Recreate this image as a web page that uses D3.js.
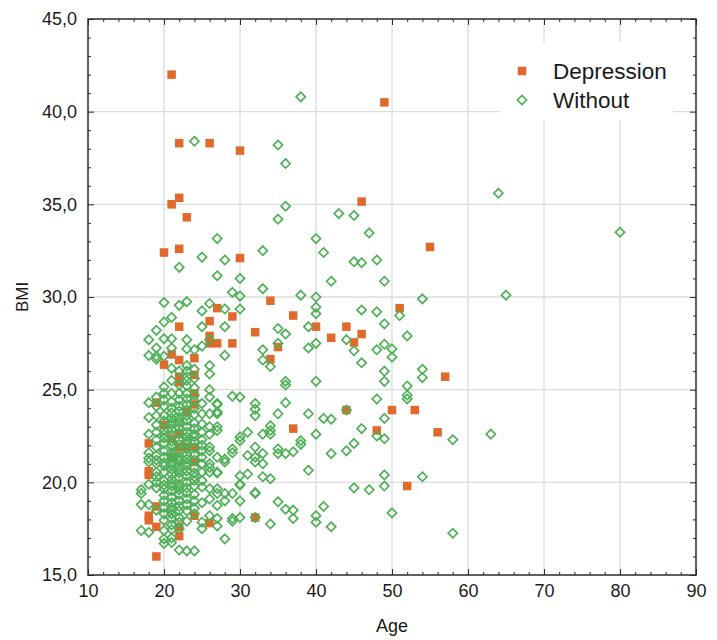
<!DOCTYPE html>
<html>
<head>
<meta charset="utf-8">
<script src="https://cdn.jsdelivr.net/npm/d3@7"></script>
<style>
  body { margin: 0; background: #fff; }
  text { font-family: "Liberation Sans", Arial, Helvetica, sans-serif; fill: #1a1a1a; }
</style>
</head>
<body>
<svg id="chart" width="717" height="640"></svg>
<script>
// Age / BMI scatter, two groups

const xTicks = [10, 20, 30, 40, 50, 60, 70, 80, 90];
const yTicks = [15, 20, 25, 30, 35, 40, 45];
const seriesNames = ['Depression', 'Without'];

// [age, BMI]
const depression = [
    [21, 42.0], [49, 40.5], [22, 38.3], [26, 38.3], [30, 37.9], [22, 35.35], [21, 35.0],
    [23, 34.3], [46, 35.15], [20, 32.4], [22, 32.6], [30, 32.1], [55, 32.7], [34, 29.8],
    [27, 29.4], [29, 28.95], [37, 29.0], [51, 29.4], [26, 28.7], [22, 28.4], [40, 28.4],
    [44, 28.4], [46, 28.0], [32, 28.1], [42, 27.8], [26, 27.9], [26, 27.5], [27, 27.5],
    [29, 27.5], [35, 27.3], [45, 27.55], [21, 26.9], [22, 26.6], [24, 26.7], [34, 26.65],
    [20, 26.35], [22, 25.7], [24, 25.8], [22, 25.4], [57, 25.7], [44, 23.9], [50, 23.9],
    [53, 23.9], [48, 22.8], [56, 22.7], [37, 22.9], [52, 19.8], [32, 18.1], [26, 17.8],
    [18, 22.1], [18, 20.6], [18, 20.4], [18, 18.2], [18, 17.95], [19, 18.7], [19, 17.6],
    [19, 16.0], [20, 23.1], [21, 22.35], [21, 21.35], [22, 22.6], [22, 17.6], [22, 17.1],
    [24, 21.9], [24, 21.1], [24, 18.2], [24, 24.8], [24, 24.2], [19, 24.3], [23, 23.8],
    [22, 21.9], [23, 21.9]
];

const without = [
    [17, 19.6], [17, 19.4], [17, 18.8], [17, 17.4],
    [18, 27.7], [18, 26.85], [18, 24.3], [18, 22.6], [18, 21.6], [18, 21.3], [18, 21.1],
    [18, 18.8], [18, 17.3], [18, 19.9], [18, 23.5],
    [19, 28.2], [19, 27.25], [19, 26.8], [19, 26.65], [19, 24.6], [19, 24.1], [19, 23.1],
    [19, 22.3], [19, 21.9], [19, 21.45], [19, 21.0], [19, 20.55], [19, 20.0], [19, 19.7],
    [19, 18.5], [19, 22.7], [19, 23.6], [19, 20.3], [19, 21.2],
    [20, 29.7], [20, 28.65], [20, 27.75], [20, 26.8], [20, 25.15], [20, 24.8], [20, 24.1],
    [20, 23.6], [20, 23.3], [20, 22.8], [20, 22.4], [20, 22.1], [20, 21.7], [20, 21.35],
    [20, 20.9], [20, 20.55], [20, 20.1], [20, 19.65], [20, 19.3], [20, 19.0], [20, 18.3],
    [20, 17.95], [20, 17.4], [20, 16.95], [20, 16.7], [20, 24.45], [20, 21.05], [20, 19.85],
    [20, 22.6], [20, 18.65],
    [21, 28.9], [21, 27.75], [21, 27.25], [21, 26.15], [21, 25.5], [21, 24.8], [21, 24.35],
    [21, 24.0], [21, 23.75], [21, 23.45], [21, 23.1], [21, 22.85], [21, 22.55], [21, 22.2],
    [21, 21.95], [21, 21.6], [21, 21.3], [21, 21.05], [21, 20.7], [21, 20.45], [21, 20.15],
    [21, 19.8], [21, 19.55], [21, 19.2], [21, 18.9], [21, 18.65], [21, 18.3], [21, 18.05],
    [21, 17.7], [21, 17.45], [21, 17.0], [21, 16.75], [21, 22.0], [21, 21.45], [21, 20.9],
    [21, 19.95], [21, 23.25], [21, 18.5],
    [22, 31.6], [22, 29.55], [22, 25.25], [22, 24.8], [22, 24.45], [22, 24.1], [22, 23.85],
    [22, 23.5], [22, 23.2], [22, 22.95], [22, 22.65], [22, 22.3], [22, 22.05], [22, 21.75],
    [22, 21.4], [22, 21.15], [22, 20.8], [22, 20.5], [22, 20.25], [22, 19.9], [22, 19.6],
    [22, 19.35], [22, 19.0], [22, 18.7], [22, 18.45], [22, 18.1], [22, 17.85], [22, 17.5],
    [22, 16.35], [22, 21.25], [22, 20.65], [22, 23.35], [22, 19.75], [22, 26.0],
    [23, 29.75], [23, 27.7], [23, 27.2], [23, 26.3], [23, 26.0], [23, 25.7], [23, 25.5],
    [23, 25.2], [23, 24.8], [23, 24.5], [23, 24.2], [23, 23.9], [23, 23.6], [23, 23.35],
    [23, 23.0], [23, 22.7], [23, 22.45], [23, 22.1], [23, 21.8], [23, 21.5], [23, 21.25],
    [23, 20.9], [23, 20.6], [23, 20.35], [23, 20.0], [23, 19.7], [23, 19.45], [23, 19.1],
    [23, 18.8], [23, 18.45], [23, 16.3], [23, 22.25], [23, 21.05], [23, 17.9],
    [24, 38.4], [24, 27.15], [24, 26.1], [24, 25.6], [24, 25.1], [24, 24.7], [24, 24.4],
    [24, 24.0], [24, 23.65], [24, 23.2], [24, 22.9], [24, 22.6], [24, 22.2], [24, 21.85],
    [24, 21.5], [24, 21.2], [24, 20.8], [24, 20.5], [24, 20.1], [24, 19.8], [24, 19.35],
    [24, 19.0], [24, 18.6], [24, 18.3], [24, 16.3], [24, 22.45], [24, 20.3],
    [25, 32.15], [25, 29.25], [25, 28.4], [25, 27.35], [25, 24.25], [25, 23.7], [25, 23.15],
    [25, 22.7], [25, 22.3], [25, 21.7], [25, 21.0], [25, 20.55], [25, 20.1], [25, 19.75],
    [25, 17.85], [25, 17.5], [25, 18.9], [25, 22.0], [25, 21.35],
    [26, 29.65], [26, 27.7], [26, 26.3], [26, 25.85], [26, 25.0], [26, 23.7], [26, 23.0],
    [26, 22.6], [26, 21.9], [26, 21.7], [26, 21.0], [26, 20.8], [26, 20.55], [26, 19.65],
    [26, 19.1], [26, 18.2], [26, 24.6],
    [27, 33.15], [27, 31.15], [27, 24.25], [27, 23.7], [27, 23.0], [27, 22.8], [27, 21.35],
    [27, 20.55], [27, 19.65], [27, 19.4], [27, 18.75], [27, 18.05], [27, 17.65], [27, 24.2],
    [27, 23.8], [27, 20.5],
    [28, 32.0], [28, 29.35], [28, 28.4], [28, 26.85], [28, 21.25], [28, 21.1], [28, 19.4],
    [28, 19.0], [28, 16.95],
    [29, 30.25], [29, 24.65], [29, 21.8], [29, 21.6], [29, 18.05], [29, 17.9], [29, 19.4],
    [30, 31.0], [30, 30.05], [30, 29.35], [30, 24.6], [30, 22.45], [30, 22.25], [30, 20.35],
    [30, 19.85], [30, 19.0], [30, 18.1], [30, 19.9],
    [31, 22.7], [31, 21.45], [31, 20.45],
    [32, 24.25], [32, 23.95], [32, 23.6], [32, 21.9], [32, 21.1], [32, 19.45], [32, 18.1],
    [32, 21.35], [32, 19.4],
    [33, 32.5], [33, 30.45], [33, 27.15], [33, 26.6], [33, 22.6], [33, 21.55], [33, 21.0], [33, 20.3],
    [34, 26.25], [34, 23.05], [34, 22.8], [34, 22.6], [34, 20.2], [34, 17.75],
    [35, 38.2], [35, 34.2], [35, 28.3], [35, 27.5], [35, 23.7], [35, 21.8], [35, 21.55], [35, 18.95],
    [36, 37.2], [36, 34.9], [36, 28.0], [36, 25.45], [36, 25.25], [36, 24.3], [36, 21.55], [36, 18.55],
    [37, 21.65], [37, 18.5], [37, 18.05],
    [38, 40.8], [38, 30.1], [38, 22.25], [38, 22.05],
    [39, 28.4], [39, 27.25], [39, 23.7], [39, 20.65],
    [40, 33.15], [40, 30.0], [40, 29.45], [40, 29.1], [40, 27.5], [40, 25.45], [40, 22.6],
    [40, 18.2], [40, 17.85],
    [41, 32.4], [41, 23.45], [41, 18.7],
    [42, 30.85], [42, 23.4], [42, 21.55], [42, 17.6],
    [43, 34.5],
    [44, 27.7], [44, 23.9], [44, 21.7],
    [45, 34.4], [45, 31.9], [45, 27.1], [45, 22.1], [45, 19.7],
    [46, 31.85], [46, 29.3], [46, 26.45], [46, 22.9],
    [47, 33.45], [47, 19.6],
    [48, 32.0], [48, 29.2], [48, 27.15], [48, 24.5], [48, 22.5],
    [49, 30.85], [49, 28.55], [49, 27.45], [49, 26.0], [49, 25.45], [49, 23.45], [49, 22.35],
    [49, 20.4], [49, 19.8],
    [50, 27.2], [50, 26.75], [50, 18.35],
    [51, 29.0],
    [52, 27.9], [52, 25.2], [52, 24.7], [52, 24.5],
    [54, 29.9], [54, 26.1], [54, 25.65], [54, 20.3],
    [58, 22.3], [58, 17.25],
    [63, 22.6], [64, 35.6], [65, 30.1], [80, 33.5]
];

const colors = { depression: '#e0692b', without: '#4fb058', grid: '#dcdcdc', frame: '#2b2b2b' };

const svg = d3.select('#chart');
const plotLeft = 88, plotRight = 696, plotTop = 19, plotBottom = 575;

const x = d3.scaleLinear().domain([10, 90]).range([plotLeft, plotRight]);
const y = d3.scaleLinear().domain([15, 45]).range([plotBottom, plotTop]);

const xMinor = d3.range(10, 90.01, 2).filter(v => v % 10 !== 0);
const yMinor = d3.range(15, 45.01, 1).filter(v => v % 5 !== 0);

const fmt = d => d3.format('.1f')(d).replace('.', ',');

// Grid
const grid = svg.append('g').attr('class', 'grid');
grid.selectAll('line.v')
    .data(xTicks.slice(1, -1))
    .join('line')
    .attr('x1', d => x(d)).attr('x2', d => x(d))
    .attr('y1', plotTop).attr('y2', plotBottom)
    .attr('stroke', colors.grid).attr('stroke-width', 1.3);
grid.selectAll('line.h')
    .data(yTicks.slice(1, -1))
    .join('line')
    .attr('x1', plotLeft).attr('x2', plotRight)
    .attr('y1', d => y(d)).attr('y2', d => y(d))
    .attr('stroke', colors.grid).attr('stroke-width', 1.3);

// Inward ticks on all four sides
function ticks(axis, transform, values, size) {
    const g = svg.append('g')
        .attr('transform', transform)
        .call(axis.tickValues(values).tickSize(size).tickFormat(''));
    g.select('.domain').remove();
    g.selectAll('line').attr('stroke', colors.frame).attr('stroke-width', 1);
}
ticks(d3.axisLeft(y), `translate(${plotLeft},0)`, yMinor, -3);
ticks(d3.axisLeft(y), `translate(${plotLeft},0)`, yTicks, -6);
ticks(d3.axisRight(y), `translate(${plotRight},0)`, yMinor, -3);
ticks(d3.axisRight(y), `translate(${plotRight},0)`, yTicks, -6);
ticks(d3.axisBottom(x), `translate(0,${plotBottom})`, xMinor, -3);
ticks(d3.axisBottom(x), `translate(0,${plotBottom})`, xTicks, -6);
ticks(d3.axisTop(x), `translate(0,${plotTop})`, xMinor, -3);
ticks(d3.axisTop(x), `translate(0,${plotTop})`, xTicks, -6);

// Frame
svg.append('rect')
    .attr('x', plotLeft).attr('y', plotTop)
    .attr('width', plotRight - plotLeft).attr('height', plotBottom - plotTop)
    .attr('fill', 'none')
    .attr('stroke', colors.frame)
    .attr('stroke-width', 1.5);

// Tick labels
const yAxis = svg.append('g')
    .attr('transform', `translate(${plotLeft},0)`)
    .call(d3.axisLeft(y).tickValues(yTicks).tickSize(0).tickPadding(11).tickFormat(fmt));
yAxis.select('.domain').remove();
yAxis.selectAll('text').attr('font-size', 18).attr('fill', '#1a1a1a');

const xAxis = svg.append('g')
    .attr('transform', `translate(0,${plotBottom})`)
    .call(d3.axisBottom(x).tickValues(xTicks).tickSize(0).tickPadding(9));
xAxis.select('.domain').remove();
xAxis.selectAll('text').attr('font-size', 18).attr('fill', '#1a1a1a');

// Axis titles
svg.append('text')
    .attr('x', (plotLeft + plotRight) / 2).attr('y', 632)
    .attr('text-anchor', 'middle')
    .attr('font-size', 18)
    .text('Age');
svg.append('text')
    .attr('transform', `translate(28,${(plotTop + plotBottom) / 2}) rotate(-90)`)
    .attr('text-anchor', 'middle')
    .attr('font-size', 17)
    .text('BMI');

// Legend box (hides grid behind it)
const legend = svg.append('g').attr('class', 'legend');
legend.append('rect')
    .attr('x', 500).attr('y', 42)
    .attr('width', 173).attr('height', 78)
    .attr('fill', '#fff');

// Points: squares first, diamonds on top
const plot = svg.append('g').attr('class', 'points');
const sq = 8.5;
plot.selectAll('rect.dep')
    .data(depression)
    .join('rect')
    .attr('class', 'dep')
    .attr('x', d => x(d[0]) - sq / 2)
    .attr('y', d => y(d[1]) - sq / 2)
    .attr('width', sq).attr('height', sq)
    .attr('fill', colors.depression);

const diamond = 'M0,-4.6L4.6,0L0,4.6L-4.6,0Z';
plot.selectAll('path.wo')
    .data(without)
    .join('path')
    .attr('class', 'wo')
    .attr('d', diamond)
    .attr('transform', d => `translate(${x(d[0])},${y(d[1])})`)
    .attr('fill', 'none')
    .attr('stroke', colors.without)
    .attr('stroke-width', 1.7);

// Legend entries
legend.append('rect')
    .attr('x', 522 - sq / 2).attr('y', 71 - sq / 2)
    .attr('width', sq).attr('height', sq)
    .attr('fill', colors.depression);
legend.append('path')
    .attr('d', diamond)
    .attr('transform', 'translate(522,100)')
    .attr('fill', 'none')
    .attr('stroke', colors.without)
    .attr('stroke-width', 1.7);
legend.selectAll('text')
    .data(seriesNames)
    .join('text')
    .attr('x', 553)
    .attr('y', (d, i) => 79 + i * 29)
    .attr('font-size', 22.5)
    .text(d => d);
</script>
</body>
</html>
